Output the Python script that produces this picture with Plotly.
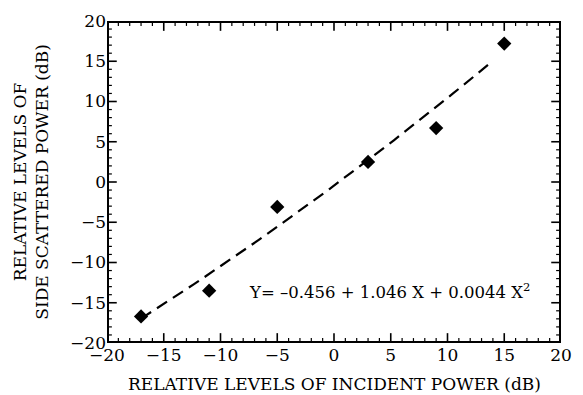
import numpy as np
import plotly.graph_objects as go

# Measured relative levels (dB)
incident_db = [-17, -11, -5, 3, 9, 15]
scattered_db = [-16.7, -13.5, -3.1, 2.5, 6.7, 17.2]

# Quadratic fit coefficients: Y = c0 + c1 X + c2 X^2
fit_coeffs = [-0.456, 1.046, 0.0044]
fit_x_range = [-17, 13.6]

axis_range = [-20, 20]
major_ticks = list(range(-20, 21, 5))
minor_ticks = [v for v in range(-20, 21) if v % 5 != 0]

W, H = 583, 395
M = dict(l=107, r=11, t=16, b=52)
plot_w = W - M["l"] - M["r"]
plot_h = H - M["t"] - M["b"]
span = axis_range[1] - axis_range[0]
ux = span / plot_w   # data units per pixel, x
uy = span / plot_h   # data units per pixel, y

fx = np.linspace(fit_x_range[0], fit_x_range[1], 60)
fy = fit_coeffs[0] + fit_coeffs[1] * fx + fit_coeffs[2] * fx ** 2

serif = "DejaVu Serif"


def tick_path(vals, length_px):
    """Inside tick marks on all four sides for the given axis values."""
    xs, ys = [], []
    lo, hi = axis_range
    for v in vals:
        # bottom and top
        xs += [v, v, None, v, v, None]
        ys += [lo, lo + length_px * uy, None, hi, hi - length_px * uy, None]
        # left and right
        xs += [lo, lo + length_px * ux, None, hi, hi - length_px * ux, None]
        ys += [v, v, None, v, v, None]
    return xs, ys


fig = go.Figure()
fig.add_trace(go.Scatter(
    x=fx.tolist(), y=fy.tolist(), mode="lines",
    line=dict(color="black", width=2.2, dash="12px,7px"),
    showlegend=False, hoverinfo="skip",
))
fig.add_trace(go.Scatter(
    x=incident_db, y=scattered_db, mode="markers",
    marker=dict(symbol="diamond", size=11, color="black"),
    showlegend=False,
))

# plot frame
lo, hi = axis_range
fig.add_trace(go.Scatter(
    x=[lo, hi, hi, lo, lo], y=[lo, lo, hi, hi, lo], mode="lines",
    line=dict(color="black", width=4), showlegend=False, hoverinfo="skip",
))
# major and minor tick marks
mx, my = tick_path(major_ticks, 10)
fig.add_trace(go.Scatter(x=mx, y=my, mode="lines",
                         line=dict(color="black", width=1.6),
                         showlegend=False, hoverinfo="skip"))
nx, ny = tick_path(minor_ticks, 5)
fig.add_trace(go.Scatter(x=nx, y=ny, mode="lines",
                         line=dict(color="black", width=1.2),
                         showlegend=False, hoverinfo="skip"))

axis_style = dict(
    range=axis_range, tickmode="array", tickvals=major_ticks,
    showgrid=False, zeroline=False, showline=False, ticks="",
    tickfont=dict(family=serif, size=17, color="black"),
)

fig.update_layout(
    width=W, height=H,
    margin=M,
    plot_bgcolor="white",
    xaxis=axis_style,
    yaxis=axis_style,
    annotations=[
        dict(
            x=0.5, y=-0.089, xref="paper", yref="paper",
            xanchor="center", yanchor="top",
            text="RELATIVE LEVELS OF INCIDENT POWER (dB)",
            showarrow=False, font=dict(family=serif, size=17, color="black"),
        ),
        dict(
            x=-0.168, y=0.5, xref="paper", yref="paper",
            xanchor="center", yanchor="middle", textangle=-90,
            text="RELATIVE LEVELS OF<br>SIDE SCATTERED POWER (dB)",
            showarrow=False, font=dict(family=serif, size=17, color="black"),
        ),
        dict(
            x=-7.7, y=-13.5, xref="x", yref="y", xanchor="left", yanchor="middle",
            text="Y= \u20130.456 + 1.046 X + 0.0044 X<sup>2</sup>",
            showarrow=False, font=dict(family=serif, size=16.5, color="black"),
        ),
    ],
)

fig.write_html("out.html")
